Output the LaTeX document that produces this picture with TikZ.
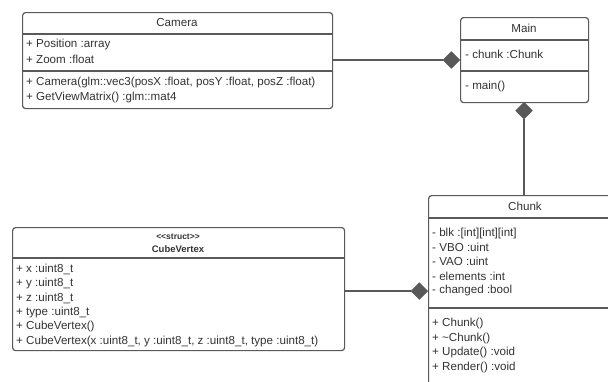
\documentclass[tikz,border=0pt]{standalone}
\usepackage{fontspec}
\setmainfont{Liberation Sans}
\usetikzlibrary{shapes.geometric}
\definecolor{lc}{HTML}{595959}
\definecolor{tc}{HTML}{333333}
\begin{document}
\begin{tikzpicture}[x=1pt,y=-1pt,
  cls/.style={draw=lc, line width=1.2pt, rounded corners=3pt, fill=white, inner sep=0pt, anchor=north west},
  sep/.style={draw=lc, line width=1.2pt},
  txt/.style={text=tc, inner sep=0pt, font=\fontsize{11.6}{13}\selectfont, anchor=west},
  ttl/.style={text=tc, inner sep=0pt, font=\fontsize{11.6}{13}\selectfont},
  dia/.style={diamond, draw=lc, fill=lc, inner sep=0pt, minimum size=17pt},
  conn/.style={draw=lc, line width=1.2pt}]
\useasboundingbox (0,0) rectangle (608,381);
\clip (0,0) rectangle (608,381);
% boxes
\node[cls, minimum width=310pt, minimum height=96pt] (camera) at (22,12) {};
\node[cls, minimum width=128pt, minimum height=85pt] (main) at (460,17) {};
\node[cls, minimum width=193pt, minimum height=210pt] (chunk) at (428,195) {};
\node[cls, minimum width=332pt, minimum height=123pt] (cube) at (12,227) {};
% dividers
\draw[sep] (camera.west |- 0,34) -- (camera.east |- 0,34);
\draw[sep] (camera.west |- 0,71) -- (camera.east |- 0,71);
\draw[sep] (main.west |- 0,40) -- (main.east |- 0,40);
\draw[sep] (main.west |- 0,71) -- (main.east |- 0,71);
\draw[sep] (chunk.west |- 0,218) -- (chunk.east |- 0,218);
\draw[sep] (chunk.west |- 0,308) -- (chunk.east |- 0,308);
\draw[sep] (cube.west |- 0,258) -- (cube.east |- 0,258);
% camera text
\node[ttl] (camt) at (177,23) {Camera};
\node[txt] (cam1) at (26,44) {+ Position :array};
\node[txt] (cam2) at (26,59) {+ Zoom :float};
\node[txt] (cam3) at (26,82) {+ Camera(glm::vec3(posX :float, posY :float, posZ :float)};
\node[txt] (cam4) at (26,97) {+ GetViewMatrix() :glm::mat4};
% main text
\node[ttl] (maint) at (524,28) {Main};
\node[txt] (main1) at (465,54) {- chunk :Chunk};
\node[txt] (main2) at (465,86) {- main()};
% chunk text
\node[ttl] (chunkt) at (525,206) {Chunk};
\node[txt] (ch1) at (432,233) {- blk :[int][int][int]};
\node[txt] (ch2) at (432,247) {- VBO :uint};
\node[txt] (ch3) at (432,261) {- VAO :uint};
\node[txt] (ch4) at (432,276) {- elements :int};
\node[txt] (ch5) at (432,290) {- changed :bool};
\node[txt] (ch6) at (432,323) {+ Chunk()};
\node[txt] (ch7) at (432,338) {+ \textasciitilde Chunk()};
\node[txt] (ch8) at (432,352) {+ Update() :void};
\node[txt] (ch9) at (432,367) {+ Render() :void};
% cube text
\node[ttl, font=\bfseries\fontsize{8.5}{10}\selectfont] (cubes) at (178,237) {<{}<struct>{}>};
\node[ttl, font=\bfseries\fontsize{9.5}{10}\selectfont] (cubet) at (178,249) {CubeVertex};
\node[txt] (cv1) at (16,269) {+ x :uint8\_t};
\node[txt] (cv2) at (16,283) {+ y :uint8\_t};
\node[txt] (cv3) at (16,298) {+ z :uint8\_t};
\node[txt] (cv4) at (16,312) {+ type :uint8\_t};
\node[txt] (cv5) at (16,326) {+ CubeVertex()};
\node[txt] (cv6) at (16,341) {+ CubeVertex(x :uint8\_t, y :uint8\_t, z :uint8\_t, type :uint8\_t)};
% connectors
\node[dia, anchor=east] (d1) at (main.west |- 0,60) {};
\draw[conn] (camera.east |- d1.west) -- (d1.west);
\node[dia, anchor=north] (d2) at (524,102) {};
\draw[conn] (d2.south) -- (d2.south |- chunk.north);
\node[dia, anchor=east] (d3) at (chunk.west |- 0,291) {};
\draw[conn] (cube.east |- d3.west) -- (d3.west);
\end{tikzpicture}
\end{document}
